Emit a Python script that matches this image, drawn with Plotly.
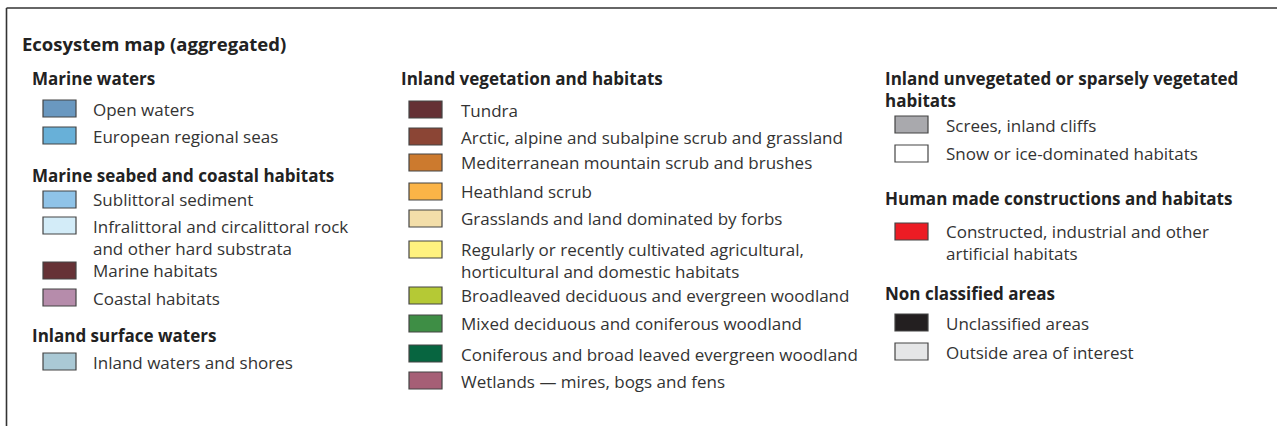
import plotly.graph_objects as go

# ---------------- data ----------------
title = "Ecosystem map (aggregated)"

group_names = [
    "Marine waters",
    "Marine seabed and coastal habitats",
    "Inland surface waters",
    "Inland vegetation and habitats",
    "Inland unvegetated or sparsely vegetated<br>habitats",
    "Human made constructions and habitats",
    "Non classified areas",
]

item_labels = [
    "Open waters",
    "European regional seas",
    "Sublittoral sediment",
    "Infralittoral and circalittoral rock<br>and other hard substrata",
    "Marine habitats",
    "Coastal habitats",
    "Inland waters and shores",
    "Tundra",
    "Arctic, alpine and subalpine scrub and grassland",
    "Mediterranean mountain scrub and brushes",
    "Heathland scrub",
    "Grasslands and land dominated by forbs",
    "Regularly or recently cultivated agricultural,<br>horticultural and domestic habitats",
    "Broadleaved deciduous and evergreen woodland",
    "Mixed deciduous and coniferous woodland",
    "Coniferous and broad leaved evergreen woodland",
    "Wetlands \u2014 mires, bogs and fens",
    "Screes, inland cliffs",
    "Snow or ice-dominated habitats",
    "Constructed, industrial and other<br>artificial habitats",
    "Unclassified areas",
    "Outside area of interest",
]

item_colors = [
    "#6a98c0", "#68b0d8", "#8fc3e8", "#d3ecf8", "#663236", "#b68cab",
    "#aac9d5",
    "#653035", "#8b4535", "#cc7a2e", "#fbb447", "#f3dea9", "#fff27f",
    "#b5c935", "#3e8e45", "#076540", "#a65f76",
    "#a9a9ad", "#ffffff",
    "#ec1c24",
    "#231f20", "#e5e6e7",
]

item_group = [0, 0, 1, 1, 1, 1, 2,
              3, 3, 3, 3, 3, 3, 3, 3, 3, 3,
              4, 4, 5, 6, 6]

# ---------------- layout (pixel positions) ----------------
W, H = 1277, 426
group_col = [0, 0, 0, 1, 2, 2, 2]
col_header_x = [32, 401, 885]
col_swatch_x = [43, 409, 895]
col_text_x = [93, 461, 946]
SW_W, SW_H = 33, 17
HALF_LINE = 10.5   # offset from first-line centre to block centre (2 lines)

group_y = [78, 175, 335, 78, 79, 198, 293]          # first-line centres
swatch_top = [100, 127, 191, 217, 262, 289, 353,
              101, 128, 154, 183, 210, 241, 287, 315, 345, 372,
              116, 145, 223, 314, 343]
text_y = [109, 136, 199, 227, 270, 298, 362,          # first-line centres
          110, 137, 162, 191, 218, 250, 295, 323, 354, 381,
          125, 153, 232, 323, 352]

FONT = "Open Sans"
TXT = "#333333"
HEAD = "#222222"
LABEL_SIZE = 17
HEAD_SIZE = 17
TITLE_SIZE = 18.5

fig = go.Figure()
fig.add_trace(go.Scatter(x=[0, W], y=[0, H], mode="markers",
                         marker=dict(opacity=0), hoverinfo="skip",
                         showlegend=False))

shapes = []
annotations = []


def add_text(x, y, text, size, color, bold=False):
    n = text.count("<br>")
    if bold:
        text = "<br>".join("<b>" + t + "</b>" for t in text.split("<br>"))
    annotations.append(dict(
        x=x, y=y + n * HALF_LINE, text=text,
        xanchor="left", yanchor="middle", align="left", showarrow=False,
        font=dict(family=FONT, size=size, color=color)))


# frame (top and left edges)
shapes.append(dict(type="line", x0=6.5, x1=W + 5, y0=8, y1=8,
                   line=dict(color="#333333", width=1.6)))
shapes.append(dict(type="line", x0=6.5, x1=6.5, y0=8, y1=H + 5,
                   line=dict(color="#333333", width=1.6)))

add_text(20, 43, title, TITLE_SIZE, HEAD, bold=True)

for g, name in enumerate(group_names):
    c = group_col[g]
    add_text(col_header_x[c] - 2, group_y[g], name, HEAD_SIZE, HEAD, bold=True)

for i, lab in enumerate(item_labels):
    c = group_col[item_group[i]]
    x0 = col_swatch_x[c]
    y0 = swatch_top[i]
    shapes.append(dict(type="rect", x0=x0, x1=x0 + SW_W, y0=y0, y1=y0 + SW_H,
                       fillcolor=item_colors[i],
                       line=dict(color="#444444", width=1.2)))
    add_text(col_text_x[c] - 2, text_y[i], lab, LABEL_SIZE, TXT)

fig.update_layout(
    width=W, height=H,
    margin=dict(l=0, r=0, t=0, b=0),
    paper_bgcolor="white", plot_bgcolor="white",
    xaxis=dict(range=[0, W], visible=False, fixedrange=True),
    yaxis=dict(range=[H, 0], visible=False, fixedrange=True),
    shapes=shapes, annotations=annotations,
    showlegend=False,
)

fig.write_html(
    "out.html",
    config={"displayModeBar": False, "staticPlot": True},
    post_script="document.body.style.margin='0';"
                "document.body.style.overflow='hidden';",
)
